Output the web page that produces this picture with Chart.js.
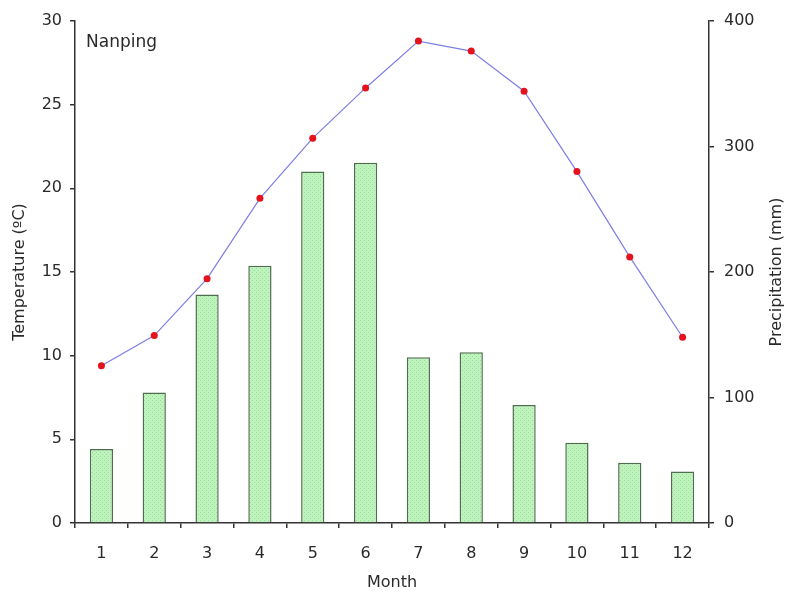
<!DOCTYPE html>
<html>
<head>
<meta charset="utf-8">
<script src="https://cdn.jsdelivr.net/npm/chart.js"></script>
<style>
  body { margin: 0; background: #fff; }
  #wrap { width: 787px; height: 596px; }
</style>
</head>
<body>
<div id="wrap"><canvas id="climateChart"></canvas></div>
<script>
const months = ["1", "2", "3", "4", "5", "6", "7", "8", "9", "10", "11", "12"];
const temperature = [9.4, 11.2, 14.6, 19.4, 23.0, 26.0, 28.8, 28.2, 25.8, 21.0, 15.9, 11.1];
const precipitation = [59, 104, 182, 205, 280, 287, 132, 136, 94, 64, 48, 41];
const tempTicks = [0, 5, 10, 15, 20, 25, 30];
const rainTicks = [0, 100, 200, 300, 400];

const font = { family: "DejaVu Sans", size: 16 };
const textColor = "#2a2a2a";

// dotted green fill for the bars
let patCanvas = document.createElement("canvas");
patCanvas.width = 4;
patCanvas.height = 4;
let pctx = patCanvas.getContext("2d");
pctx.fillStyle = "#bcf4bc";
pctx.fillRect(0, 0, 4, 4);
pctx.fillStyle = "#a2d6a2";
pctx.fillRect(0, 0, 1, 1);
pctx.fillRect(2, 2, 1, 1);

const ctx = document.getElementById("climateChart");
const barFill = ctx.getContext("2d").createPattern(patCanvas, "repeat");

const extraText = {
  id: "extraText",
  afterDraw(chart) {
    let c = chart.ctx;
    c.save();
    c.fillStyle = textColor;
    c.font = "17px 'DejaVu Sans'";
    c.textBaseline = "middle";
    c.textAlign = "left";
    c.fillText("Nanping", 86, 43);
    c.translate(777, 272);
    c.rotate(-Math.PI / 2);
    c.textAlign = "center";
    c.font = "16px 'DejaVu Sans'";
    c.fillText("Precipitation (mm)", 0, 0);
    c.restore();
  }
};

new Chart(ctx, {
  type: "bar",
  data: {
    labels: months,
    datasets: [
      {
        type: "line",
        data: temperature,
        yAxisID: "yTemp",
        borderColor: "#7d7de6",
        borderWidth: 1.2,
        pointBackgroundColor: "#e3121c",
        pointBorderWidth: 0,
        pointRadius: 3.5,
        tension: 0,
        order: 0
      },
      {
        data: precipitation,
        yAxisID: "yRain",
        backgroundColor: barFill,
        borderColor: "#4f6e4f",
        borderWidth: 1.5,
        categoryPercentage: 1,
        barPercentage: 0.44,
        order: 1
      }
    ]
  },
  options: {
    responsive: true,
    maintainAspectRatio: false,
    animation: false,
    layout: { padding: { top: 21, left: 0, right: 0, bottom: 0 } },
    plugins: {
      legend: { display: false },
      tooltip: { enabled: false }
    },
    scales: {
      x: {
        grid: { offset: true, drawOnChartArea: false, color: "#333", tickLength: 5, lineWidth: 1.5 },
        border: { color: "#333", width: 1.5 },
        ticks: { color: textColor, font: font, padding: 16, maxRotation: 0 },
        title: { display: true, text: "Month", color: textColor, font: font, padding: { top: 0, bottom: 4 } },
        afterFit: (scale) => { scale.height = 73; }
      },
      yTemp: {
        position: "left",
        min: 0,
        max: 30,
        afterBuildTicks: (scale) => { scale.ticks = tempTicks.map(v => ({ value: v })); },
        grid: { drawOnChartArea: false, color: "#333", tickLength: 5, lineWidth: 1.5 },
        border: { color: "#333", width: 1.5 },
        ticks: { color: textColor, font: font, padding: 8 },
        title: { display: true, text: "Temperature (ºC)", color: textColor, font: font, padding: { top: 10, bottom: 0 } },
        afterFit: (scale) => { scale.width = 75; }
      },
      yRain: {
        position: "right",
        min: 0,
        max: 400,
        afterBuildTicks: (scale) => { scale.ticks = rainTicks.map(v => ({ value: v })); },
        grid: { drawOnChartArea: false, color: "#333", tickLength: 5, lineWidth: 1.5 },
        border: { color: "#333", width: 1.5 },
        ticks: { color: textColor, font: font, padding: 10 },
        afterFit: (scale) => { scale.width = 78; }
      }
    }
  },
  plugins: [extraText]
});
</script>
</body>
</html>
